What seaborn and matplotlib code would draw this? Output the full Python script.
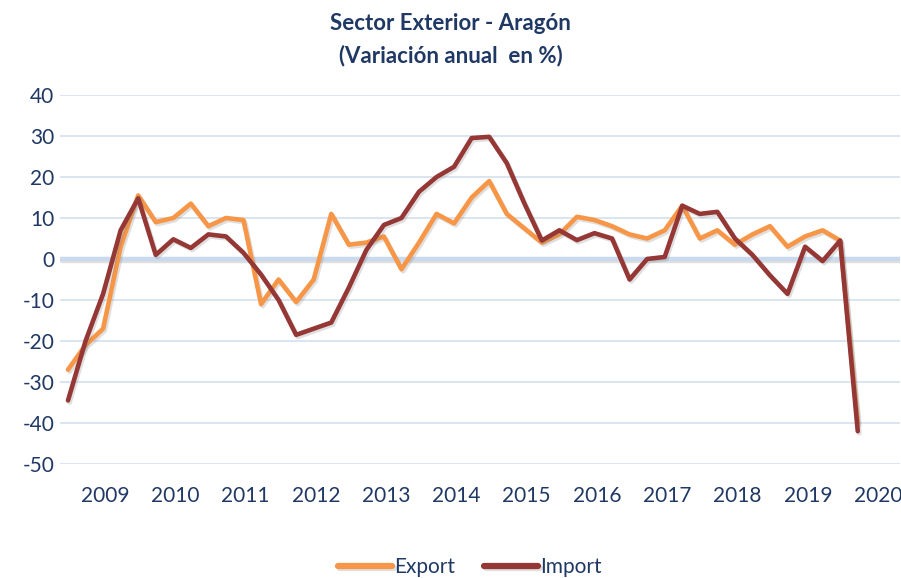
import numpy as np
import pandas as pd
import seaborn as sns
import matplotlib
matplotlib.use("Agg")
import matplotlib.pyplot as plt
import matplotlib.patheffects as pe

# ---- data (quarterly, annual % change) ----
period = list(range(46))
export = [-27, -21, -17, 3, 15.5, 9, 10, 13.5, 8, 10, 9.5, -11, -5, -10.5, -5, 11,
          3.5, 4, 5.5, -2.5, 4, 11, 8.7, 15, 19, 11, 7.5, 4, 6, 10.3, 9.5, 8,
          6, 5, 7, 13, 5, 7, 3.5, 6, 8, 3, 5.5, 7, 4.5, -40]
imports = [-34.5, -20, -8.5, 7, 14.8, 1, 4.8, 2.7, 6, 5.5, 1.5, -3.8, -10, -18.5, -17, -15.5,
           -7, 2.2, 8.3, 10, 16.4, 20, 22.5, 29.5, 29.8, 23.4, 13.6, 4.5, 7, 4.6, 6.3, 5,
           -5, 0, 0.5, 13, 11, 11.5, 5, 1, -4, -8.5, 3, -0.5, 4.5, -42]
year_labels = ["2009", "2010", "2011", "2012", "2013", "2014", "2015", "2016",
               "2017", "2018", "2019", "2020"]
y_ticks = [40, 30, 20, 10, 0, -10, -20, -30, -40, -50]

df = pd.DataFrame({"period": period * 2,
                   "value": export + imports,
                   "serie": ["Export"] * len(export) + ["Import"] * len(imports)})

sns.set_style("white")
plt.rcParams["font.family"] = ["Lato", "DejaVu Sans"]

navy = "#1F3864"
fig = plt.figure(figsize=(9.01, 5.78), dpi=100)
ax = fig.add_axes([60 / 901, 1 - 464 / 578, 840 / 901, (464 - 95) / 578])

for v in y_ticks:
    if v == 0:
        ax.axhline(v, color="#C9DAEE", lw=3.2, zorder=1)
    else:
        ax.axhline(v, color="#D8E3F0", lw=1.3, zorder=1)

sns.lineplot(data=df, x="period", y="value", hue="serie",
             palette={"Export": "#F79646", "Import": "#953735"},
             linewidth=3.3, ax=ax, zorder=3, legend=True)
for line in ax.lines:
    if line.get_linewidth() > 3:
        line.set_solid_capstyle("round")
        line.set_solid_joinstyle("round")
        line.set_path_effects([pe.SimpleLineShadow(offset=(1.2, -1.5), alpha=0.25, shadow_color="gray"),
                               pe.Normal()])

ax.set_ylim(-50, 40)
ax.set_xlim((60 - 68) / 17.55, (900 - 68) / 17.55)
ax.set_yticks(y_ticks)
ax.set_yticklabels([str(v) for v in y_ticks])
ax.set_xticks([2.1 + 4.006 * k for k in range(len(year_labels))])
ax.set_xticklabels(year_labels)
ax.tick_params(axis="both", length=0, labelsize=15, colors=navy)
ax.tick_params(axis="y", pad=4)
ax.tick_params(axis="x", pad=16)
ax.set_xlabel("")
ax.set_ylabel("")
for s in ax.spines.values():
    s.set_visible(False)

fig.text(0.5, 1 - 23 / 578, "Sector Exterior - Aragón", ha="center", va="center",
         fontsize=16, fontweight="bold", color=navy)
fig.text(0.5, 1 - 56 / 578, "(Variación anual  en %)", ha="center", va="center",
         fontsize=16, fontweight="bold", color=navy)

leg = ax.legend(loc="center", bbox_to_anchor=(470 / 901, 1 - 567 / 578), bbox_transform=fig.transFigure,
                ncol=2, frameon=False, fontsize=15, handlelength=2.6, handletextpad=0.1,
                columnspacing=1.4)
for t in leg.get_texts():
    t.set_color(navy)
for h in leg.get_lines():
    h.set_linewidth(4.5)

fig.savefig("out.png", dpi=100)
